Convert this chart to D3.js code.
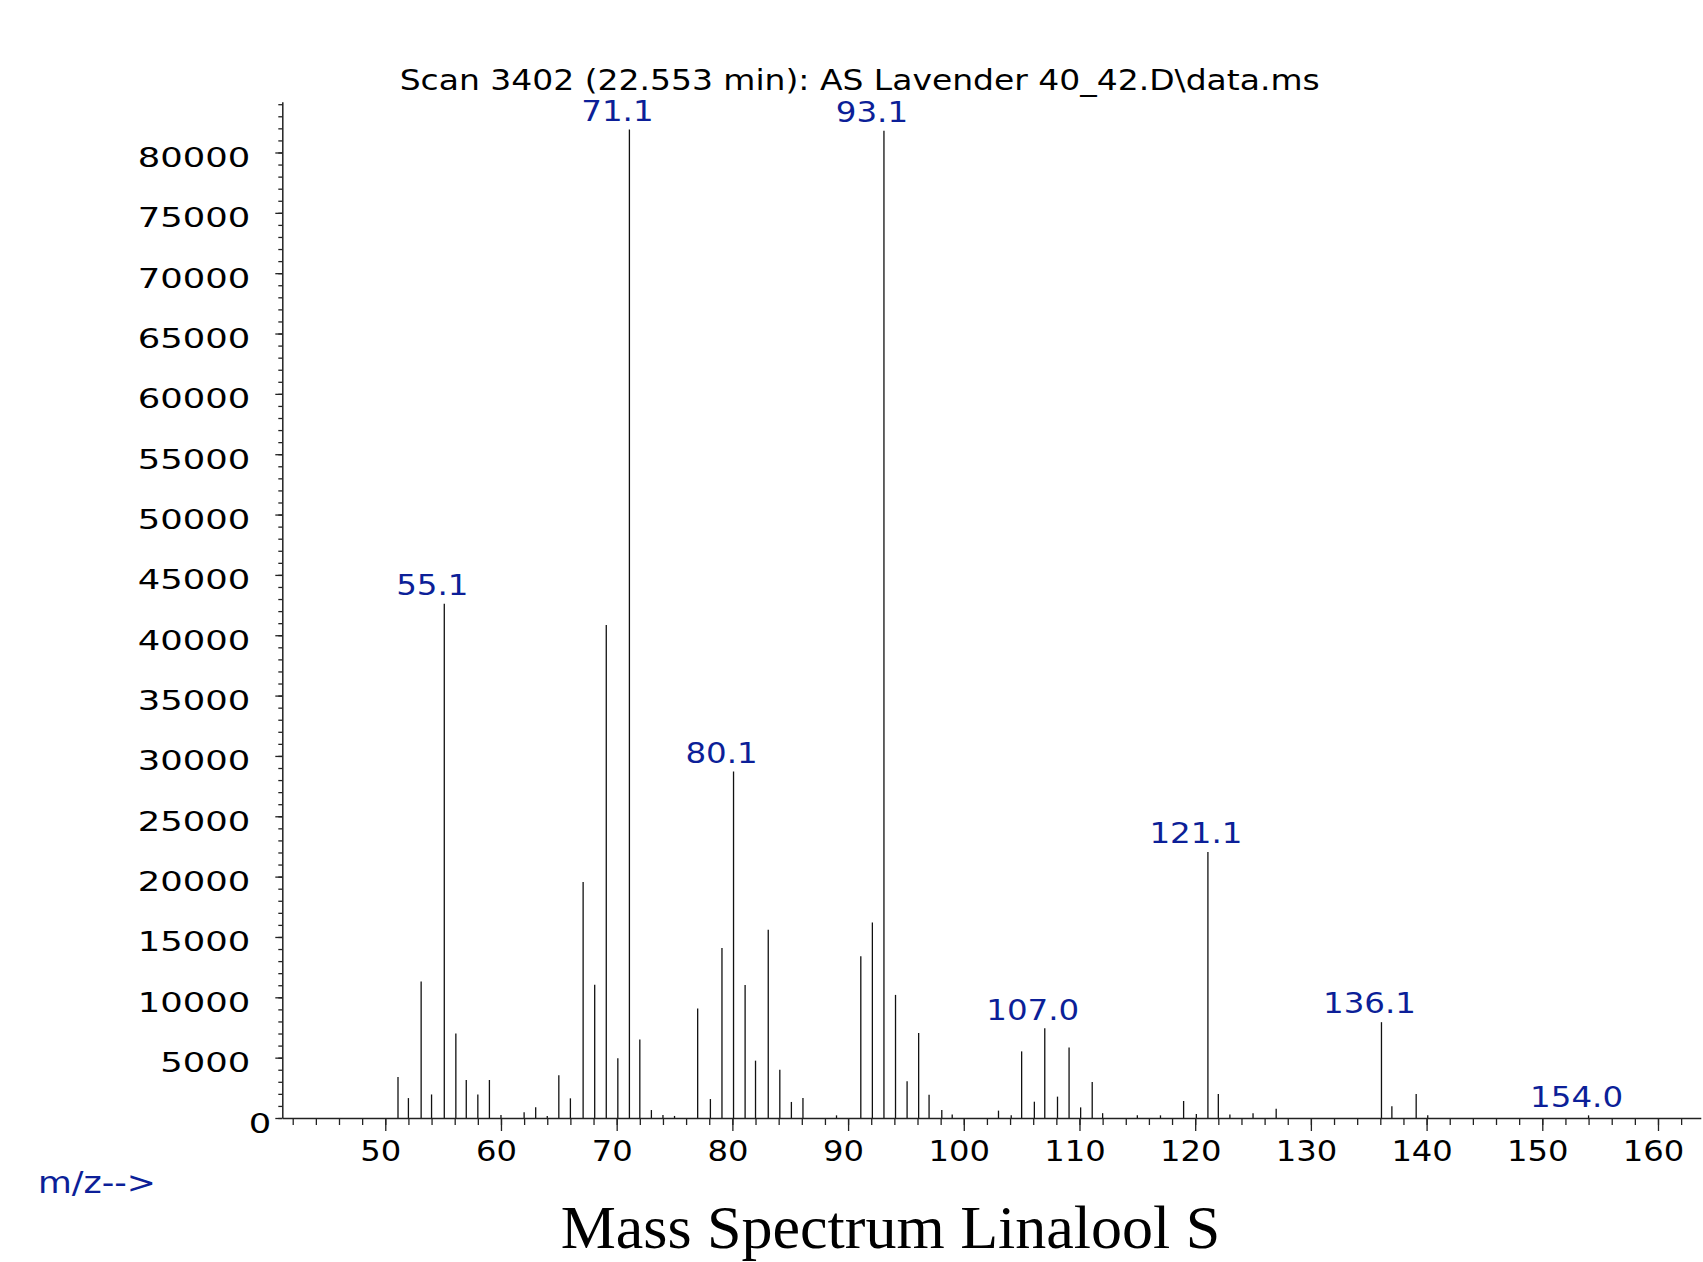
<!DOCTYPE html>
<html>
<head>
<meta charset="utf-8">
<script src="https://d3js.org/d3.v7.min.js"></script>
<style>
  body { margin: 0; background: #fff; }
  svg { display: block; }
</style>
</head>
<body>
<div id="chart"></div>
<script>
// peak list (m/z, abundance)
const mzValues = [
  51.1, 52.0, 53.1, 54.0, 55.1, 56.1, 57.0, 58.0, 59.0, 60.0,
  62.0, 63.0, 64.0, 65.0, 66.0, 67.1, 68.1, 69.1, 70.1, 71.1,
  72.0, 73.0, 74.0, 75.0, 77.0, 78.1, 79.1, 80.1, 81.1, 82.0,
  83.1, 84.1, 85.1, 86.1, 89.0, 91.1, 92.1, 93.1, 94.1, 95.1,
  96.1, 97.0, 98.1, 99.0, 103.0, 104.1, 105.0, 106.1, 107.0, 108.1,
  109.1, 110.1, 111.1, 112.0, 115.0, 117.0, 119.0, 120.1, 121.1, 122.0,
  123.0, 125.0, 127.0, 136.1, 137.0, 139.1, 140.1, 154.0
];
const abundances = [
  3400, 1650, 11300, 1950, 42600, 7000, 3150, 1950, 3150, 250,
  470, 900, 170, 3550, 1630, 19550, 11050, 40850, 4950, 81900,
  6500, 660, 250, 170, 9080, 1570, 14080, 28700, 11020, 4750,
  15600, 4000, 1330, 1660, 220, 13400, 16200, 81800, 10200, 3050,
  7040, 1930, 660, 300, 610, 220, 5520, 1350, 7430, 1770,
  5850, 880, 2980, 400, 220, 220, 1410, 330, 22050, 1990,
  280, 390, 770, 7940, 980, 1990, 220, 220
];
// peaks that carry a m/z label
const labelledPeaks = [55.1, 71.1, 80.1, 93.1, 107.0, 121.1, 136.1, 154.0];

const yMajorTicks = d3.range(0, 80001, 5000);
const yMinorTicks = d3.range(0, 84001, 1000);
const xMajorTicks = d3.range(50, 161, 10);
const xMinorTicks = d3.range(42, 164, 2);

const titleText = "Scan 3402 (22.553 min): AS Lavender 40_42.D\\data.ms";
const xAxisText = "m/z-->";
const captionText = "Mass Spectrum Linalool S";

const W = 1703, H = 1262;
const blue = "#0c1f98";
const numFont = "'DejaVu Sans', Verdana, sans-serif";

const svg = d3.select("#chart").append("svg")
    .attr("width", W)
    .attr("height", H);

svg.append("rect").attr("width", W).attr("height", H).attr("fill", "#fff");

const x = d3.scaleLinear().domain([41.1, 163.7]).range([282.3, 1700.8]);
const y = d3.scaleLinear().domain([0, 84200]).range([1118, 101.8]);

const peaks = mzValues.map((m, i) => ({ mz: m, ab: abundances[i] }));

// stems
svg.append("g")
    .selectAll("line")
    .data(peaks)
    .enter().append("line")
    .attr("x1", d => x(d.mz))
    .attr("x2", d => x(d.mz))
    .attr("y1", y(0))
    .attr("y2", d => y(d.ab))
    .attr("stroke", "#111")
    .attr("stroke-width", 1.3);

// y axis: minor ticks, then labelled major ticks
svg.append("g")
    .attr("transform", `translate(${x.range()[0]},0)`)
    .call(d3.axisLeft(y).tickValues(yMinorTicks).tickSize(4).tickSizeOuter(0).tickFormat(""))
    .call(g => g.selectAll("line").attr("stroke", "#222").attr("stroke-width", 1.3))
    .call(g => g.select(".domain").attr("stroke", "#222").attr("stroke-width", 1.5));

const yMajor = svg.append("g")
    .attr("transform", `translate(${x.range()[0]},0)`)
    .call(d3.axisLeft(y).tickValues(yMajorTicks).tickSize(7).tickSizeOuter(0).tickFormat(d3.format("d")));
yMajor.select(".domain").remove();
yMajor.selectAll("line").attr("stroke", "#222").attr("stroke-width", 1.3);
yMajor.selectAll("text")
    .attr("font-family", numFont)
    .attr("font-size", 27)
    .attr("fill", "#000")
    .attr("text-anchor", "end")
    .attr("dy", null)
    .attr("y", 14)
    .attr("x", d => (d === 0 ? -11 : -32) / 1.31)
    .attr("transform", "scale(1.31,1)");

// x axis: minor ticks every 2, labelled majors every 10
svg.append("g")
    .attr("transform", `translate(0,${y(0)})`)
    .call(d3.axisBottom(x).tickValues(xMinorTicks).tickSize(7).tickSizeOuter(0).tickFormat(""))
    .call(g => g.selectAll("line").attr("stroke", "#222").attr("stroke-width", 1.3))
    .call(g => g.select(".domain").attr("stroke", "#222").attr("stroke-width", 1.5));

const xMajor = svg.append("g")
    .attr("transform", `translate(0,${y(0)})`)
    .call(d3.axisBottom(x).tickValues(xMajorTicks).tickSize(13).tickSizeOuter(0));
xMajor.select(".domain").remove();
xMajor.selectAll("line").attr("stroke", "#222").attr("stroke-width", 1.3);
xMajor.selectAll("text")
    .attr("font-family", numFont)
    .attr("font-size", 28)
    .attr("fill", "#000")
    .attr("text-anchor", "middle")
    .attr("dy", null)
    .attr("y", 42.7)
    .attr("x", -5 / 1.15)
    .attr("transform", "scale(1.15,1)");

// peak labels
svg.append("g")
    .selectAll("text")
    .data(peaks.filter(d => labelledPeaks.includes(d.mz)))
    .enter().append("text")
    .attr("transform", d => `translate(${x(d.mz) - 12},${y(d.ab) - 8.7}) scale(1.14,1)`)
    .attr("text-anchor", "middle")
    .attr("font-family", numFont)
    .attr("font-size", 28.5)
    .attr("fill", blue)
    .text(d => d.mz.toFixed(1));

// scan title
svg.append("text")
    .attr("x", 399.7)
    .attr("y", 90)
    .attr("font-family", numFont)
    .attr("font-size", 29)
    .attr("fill", "#000")
    .attr("textLength", 920)
    .attr("lengthAdjust", "spacingAndGlyphs")
    .text(titleText);

// axis caption
svg.append("text")
    .attr("x", 38)
    .attr("y", 1193.3)
    .attr("font-family", numFont)
    .attr("font-size", 30)
    .attr("fill", blue)
    .attr("textLength", 118)
    .attr("lengthAdjust", "spacingAndGlyphs")
    .text(xAxisText);

// bottom caption
svg.append("text")
    .attr("x", 890.5)
    .attr("y", 1248)
    .attr("text-anchor", "middle")
    .attr("font-family", "'Liberation Serif', 'Times New Roman', serif")
    .attr("font-size", 62)
    .attr("fill", "#000")
    .text(captionText);
</script>
</body>
</html>
